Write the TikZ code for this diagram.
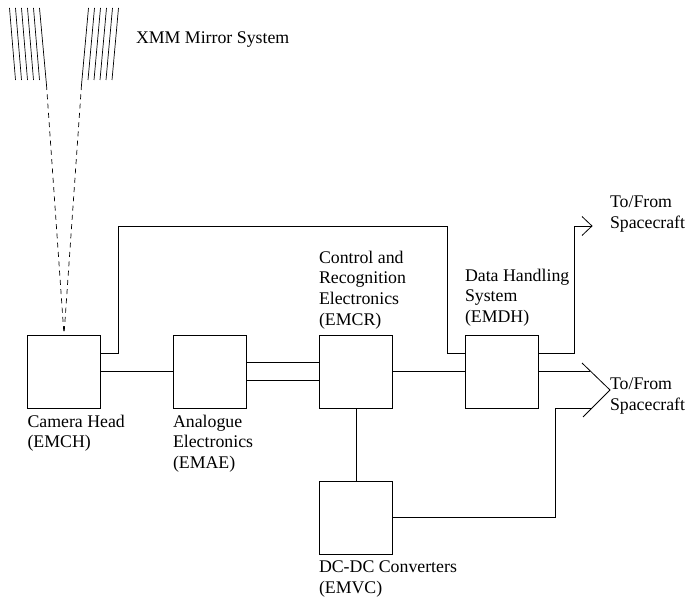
\documentclass[tikz,border=0pt]{standalone}
\usepackage{fontspec}
\usetikzlibrary{calc}
\setmainfont{Liberation Serif}
\tikzset{
  unit/.style={draw,line width=0.8pt,minimum width=73pt,minimum height=73pt,inner sep=0pt,outer sep=0pt},
  lab/.style={anchor=north west,align=left,inner sep=0pt,outer sep=0pt,font=\fontsize{17.8}{20.6}\selectfont},
  wire/.style={line width=0.8pt,line join=miter},
  ray/.style={line width=0.7pt},
  beam/.style={line width=0.7pt,dash pattern=on 5pt off 4.3pt}
}
\begin{document}
\begin{tikzpicture}[x=1pt,y=-1pt]
\useasboundingbox (0,0) rectangle (685,601);
\node[unit] (ch) at (64,371.5) {};
\node[unit] (ae) at (210,371.5) {};
\node[unit] (cr) at (356,371.5) {};
\node[unit] (dh) at (502,371.5) {};
\node[unit] (dc) at (356,517.5) {};
% labels
\node[lab] (lm) at (136,32) {XMM Mirror System};
\node[lab] (l1) at (27.5,415) {Camera Head\\(EMCH)};
\node[lab] (l2) at (173,415) {Analogue\\Electronics\\(EMAE)};
\node[lab] (l3) at (319,251) {Control and\\Recognition\\Electronics\\(EMCR)};
\node[lab] (l4) at (465,269) {Data Handling\\System\\(EMDH)};
\node[lab] (l5) at (319,561) {DC-DC Converters\\(EMVC)};
\node[lab] (l6) at (610,196) {To/From\\Spacecraft};
\node[lab] (l7) at (610,378) {To/From\\Spacecraft};
% mirror shells
\coordinate (focus) at (64,335);
\foreach \a/\b in {9.5/15.5,15.5/21.5,21.5/27.5,27.5/33.5,33.5/39.5,94.5/88,100.5/94,106.5/100,112.5/106,118.5/112}{\draw[ray] (\a,8) -- (\b,80);}
\coordinate (li) at (46.5,85);
\coordinate (ri) at (81.5,85);
\draw[ray] (39.5,8) -- (li);
\draw[ray] (88.5,8) -- (ri);
\draw[beam] (li) -- (focus);
\draw[beam] (ri) -- (focus);
% connectors
\coordinate (a1) at (118.7,226);
\coordinate (a2) at (447,226);
\coordinate (p1) at ($(ch.east)+(0,-18.5)$);
\coordinate (p2) at ($(dh.west)+(0,-18.5)$);
\draw[wire] (p1) -- (p1 -| a1) -- (a1) -- (a2) -- (a2 |- p2) -- (p2);
\draw[wire] (ch.east) -- (ae.west);
\draw[wire] ($(ae.east)+(0,-9)$) -- ($(cr.west)+(0,-9)$);
\draw[wire] ($(ae.east)+(0,9)$) -- ($(cr.west)+(0,9)$);
\draw[wire] (cr.east) -- (dh.west);
\draw[wire] (cr.south) -- (dc.north);
% upper arrow
\coordinate (t1) at (592,226);
\coordinate (p3) at ($(dh.east)+(0,-18.5)$);
\coordinate (b1) at (574,226);
\draw[wire] (p3) -- (p3 -| b1) -- (b1) -- (t1);
\draw[wire] (582,216.5) -- (t1) -- (582,235.5);
% merged arrow
\coordinate (t2) at (610,390);
\coordinate (t3) at (582,363);
\coordinate (t4) at (583,417);
\draw[wire] (t3) -- (t2) -- (t4);
\coordinate (m1) at (590,371.5);
\draw[wire] (dh.east) -- (m1);
\coordinate (c1) at (555,408);
\coordinate (c2) at (592,408);
\draw[wire] (dc.east) -- (dc.east -| c1) -- (c1) -- (c2);
\end{tikzpicture}
\end{document}
